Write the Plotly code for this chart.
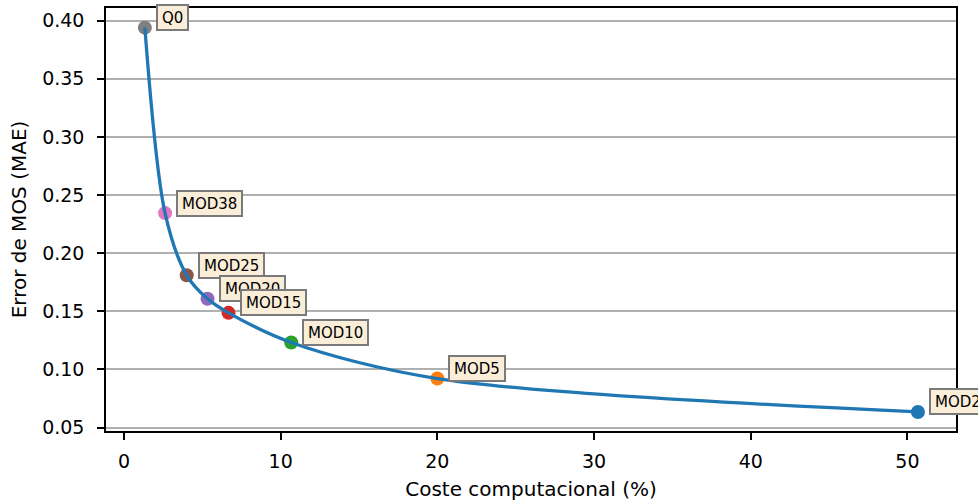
import plotly.graph_objects as go

# Cost (% of full model) vs. MOS prediction error for each model variant
labels = ["Q0", "MOD38", "MOD25", "MOD20", "MOD15", "MOD10", "MOD5", "MOD2"]
coste = [1.33, 2.62, 4.0, 5.33, 6.67, 10.67, 20.0, 50.67]
mae = [0.394, 0.2345, 0.181, 0.1608, 0.1487, 0.1232, 0.0922, 0.0635]
colores = ["#7f7f7f", "#e377c2", "#8c564b", "#9467bd", "#d62728",
           "#2ca02c", "#ff7f0e", "#1f77b4"]

x_ticks = [0, 10, 20, 30, 40, 50]
y_ticks = [0.05, 0.10, 0.15, 0.20, 0.25, 0.30, 0.35, 0.40]

FONT = "DejaVu Sans"

fig = go.Figure()

# one marker per model variant
for lab, xv, yv, col in zip(labels, coste, mae, colores):
    fig.add_trace(go.Scatter(
        x=[xv], y=[yv], mode="markers", name=lab,
        marker=dict(color=col, size=14, line=dict(width=0)),
        showlegend=False, hoverinfo="skip"))

# smooth trade-off curve drawn over the markers
fig.add_trace(go.Scatter(
    x=coste, y=mae, mode="lines",
    line=dict(color="#1f77b4", width=3.3, shape="spline", smoothing=0.9),
    showlegend=False, hoverinfo="skip"))

for lab, xv, yv in zip(labels, coste, mae):
    fig.add_annotation(
        x=xv, y=yv, xref="x", yref="y", text=lab, showarrow=False,
        xanchor="left", yanchor="middle", xshift=11, yshift=10,
        font=dict(family=FONT, size=15, color="black"),
        bgcolor="#faeed9", bordercolor="#7a7a7a", borderwidth=2,
        borderpad=4, height=15, valign="middle")

fig.update_layout(
    width=978, height=501,
    margin=dict(l=106, r=22, t=8, b=70, autoexpand=False),
    paper_bgcolor="white", plot_bgcolor="white",
    font=dict(family=FONT, size=19, color="black"),
    xaxis=dict(
        range=[-1.15, 53.1], tickvals=x_ticks,
        ticktext=[str(v) for v in x_ticks],
        showgrid=False, zeroline=False, automargin=False,
        showline=True, linecolor="black", linewidth=1.5, mirror=True,
        ticks="outside", ticklen=7, tickwidth=1.5, tickcolor="black",
        ticklabelstandoff=5,
        title=dict(text="Coste computacional (%)", standoff=12,
                   font=dict(size=20)),
        tickfont=dict(size=19)),
    yaxis=dict(
        range=[0.0471, 0.4109], tickvals=y_ticks,
        ticktext=[f"{v:.2f}" for v in y_ticks],
        showgrid=True, gridcolor="#b0b0b0", gridwidth=1.5, zeroline=False,
        automargin=False,
        showline=True, linecolor="black", linewidth=1.5, mirror=True,
        ticks="outside", ticklen=7, tickwidth=1.5, tickcolor="black",
        ticklabelstandoff=9,
        title=dict(text="Error de MOS (MAE)", standoff=10,
                   font=dict(size=20)),
        tickfont=dict(size=19)),
)

fig.write_html("out.html")
